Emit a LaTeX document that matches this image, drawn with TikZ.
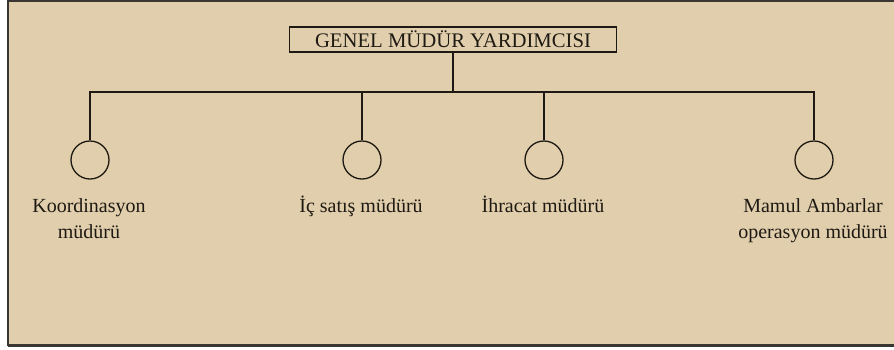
\documentclass[tikz,border=0pt]{standalone}
\usepackage{fontspec}
\setmainfont{Liberation Serif}
\definecolor{paper}{HTML}{E0CEAC}
\definecolor{ink}{HTML}{1E1912}
\definecolor{rim}{HTML}{3A3631}
\begin{document}
\begin{tikzpicture}[x=1pt,y=-1pt,
  rule/.style={draw=ink,line width=1.6pt},
  headbox/.style={draw=ink,line width=1.3pt,minimum width=327pt,minimum height=25pt,inner sep=0pt,
    font=\fontsize{20.7}{24}\selectfont,text=ink},
  unit/.style={circle,draw=ink,line width=1.3pt,minimum size=38pt,inner sep=0pt},
  lbl/.style={font=\fontsize{20}{26}\selectfont,text=ink,align=center,inner sep=0pt,anchor=base}]
\useasboundingbox (0,0) rectangle (894,349);
% paper sheet with its frame
\fill[paper] (8,0) rectangle (894,346);
\draw[rim,line width=2pt] (8,346) -- (8,1) -- (894,1);
\draw[rim,line width=2.5pt] (8,345.5) -- (894,345.5);

% head of the department
\node[headbox] (gm) at (453,39.5) {GENEL MÜDÜR YARDIMCISI};

% the four units
\node[unit] (c1) at (90,160) {};
\node[unit] (c2) at (362,160) {};
\node[unit] (c3) at (544,160) {};
\node[unit] (c4) at (814,160) {};

% connectors
\coordinate (bus) at (0,92);
\draw[rule] (gm.south) -- (gm.south |- bus);
\draw[rule] (c1.north) -- (c1 |- bus) -- (c4 |- bus) -- (c4.north);
\draw[rule] (c2.north) -- (c2 |- bus);
\draw[rule] (c3.north) -- (c3 |- bus);

% labels (base anchor sits on the last line)
\node[lbl] (l1) at (89,238) {Koordinasyon\\müdürü};
\node[lbl] (l2) at (361,212) {İç satış müdürü};
\node[lbl] (l3) at (543,212) {İhracat müdürü};
\node[lbl] (l4) at (813,238) {Mamul Ambarlar\\operasyon müdürü};
\end{tikzpicture}
\end{document}
